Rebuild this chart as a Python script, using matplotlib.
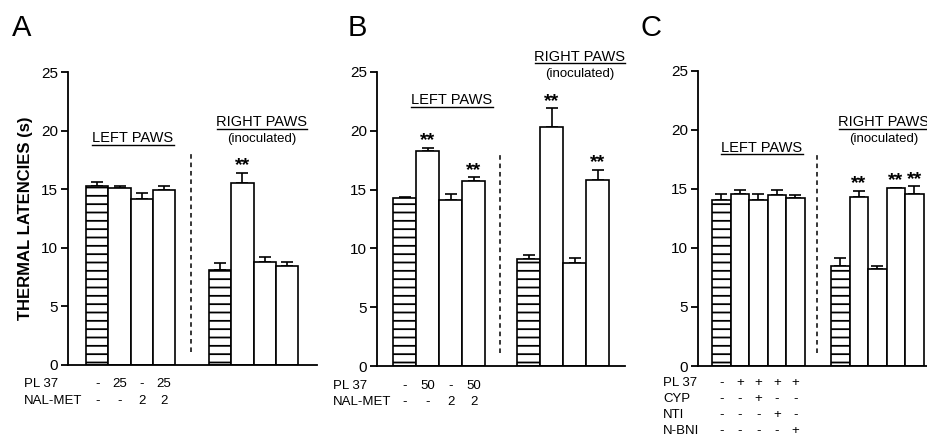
import numpy as np
import matplotlib

matplotlib.use('Agg')
import matplotlib.pyplot as plt
from matplotlib.lines import Line2D
from matplotlib import transforms

plt.rcParams['font.family'] = ['Liberation Sans', 'DejaVu Sans']
plt.rcParams['hatch.linewidth'] = 1.3
plt.rcParams['hatch.color'] = 'black'

W, H = 927, 437

# ---------------- data ----------------
# panel A
A_left = [15.3, 15.1, 14.2, 14.9]
A_left_err = [0.3, 0.2, 0.45, 0.4]
A_right = [8.1, 15.5, 8.75, 8.45]
A_right_err = [0.6, 0.9, 0.45, 0.3]
A_left_stars = []
A_right_stars = [1]
A_rows = {'PL 37': ['-', '25', '-', '25'],
          'NAL-MET': ['-', '-', '2', '2']}

# panel B
B_left = [14.25, 18.3, 14.15, 15.75]
B_left_err = [0.1, 0.25, 0.45, 0.3]
B_right = [9.1, 20.3, 8.75, 15.85]
B_right_err = [0.3, 1.6, 0.45, 0.85]
B_left_stars = [1, 3]
B_right_stars = [1, 3]
B_rows = {'PL 37': ['-', '50', '-', '50'],
          'NAL-MET': ['-', '-', '2', '2']}

# panel C
C_left = [14.1, 14.6, 14.1, 14.45, 14.2]
C_left_err = [0.5, 0.3, 0.45, 0.5, 0.25]
C_right = [8.45, 14.35, 8.25, 15.05, 14.55]
C_right_err = [0.7, 0.5, 0.2, 0.05, 0.7]
C_left_stars = []
C_right_stars = [1, 3, 4]
C_rows = {'PL 37': ['-', '+', '+', '+', '+'],
          'CYP': ['-', '-', '+', '-', '-'],
          'NTI': ['-', '-', '-', '+', '-'],
          'N-BNI': ['-', '-', '-', '-', '+']}

yticks = [0, 5, 10, 15, 20, 25]


def px(x, y):
    # pixel position -> figure fraction
    return x / W, 1 - y / H


fig = plt.figure(figsize=(W / 100, H / 100), dpi=100)
underlined = []


def draw_panel(rect_px, bar_px, starts, dash_x, left, left_err, right, right_err,
               left_stars, right_stars, rows, row_y, label_x):
    x0, ytop, x1, ybot = rect_px
    ax = fig.add_axes([x0 / W, 1 - ybot / H, (x1 - x0) / W, (ybot - ytop) / H])
    width_units = (x1 - x0) / bar_px
    ax.set_xlim(0, width_units)
    ax.set_ylim(0, 25)

    centers = []
    for start, vals, errs, stars in [(starts[0], left, left_err, left_stars),
                                     (starts[1], right, right_err, right_stars)]:
        xs = start + 0.5 + np.arange(len(vals))
        hatches = ['--'] + [''] * (len(vals) - 1)
        for x, v, h in zip(xs, vals, hatches):
            ax.bar(x, v, width=1.0, color='white', edgecolor='black',
                   linewidth=1.2, hatch=h, zorder=2)
        ax.errorbar(xs, vals, yerr=[np.zeros(len(vals)), errs], fmt='none',
                    ecolor='black', elinewidth=1.2, capsize=4, capthick=1.2, zorder=1)
        for i in stars:
            ax.text(xs[i], vals[i] + errs[i] + 0.2, '**', ha='center', va='baseline',
                    fontsize=14, fontweight='bold')
        centers.extend(xs)

    ax.plot([dash_x, dash_x], [1.1, 18.0], color='black', lw=1.1,
            linestyle=(0, (3, 2.5)))

    for s in ['top', 'right']:
        ax.spines[s].set_visible(False)
    for s in ['left', 'bottom']:
        ax.spines[s].set_linewidth(1.3)
    ax.set_xticks([])
    ax.set_yticks(yticks)
    ax.tick_params(axis='y', direction='out', length=5, width=1.3, labelsize=11, pad=2)

    # condition table under the bars
    trans = transforms.blended_transform_factory(ax.transData, fig.transFigure)
    for (name, marks), yy in zip(rows.items(), row_y):
        fig.text(*px(label_x, yy), name, fontsize=9.5, ha='left', va='center')
        for x, m in zip(centers, marks):
            ax.text(x, 1 - yy / H, m, transform=trans, fontsize=9.5,
                    ha='center', va='center', clip_on=False)
    return ax


axA = draw_panel((68, 72, 317, 365), 22.3, (0.81, 6.32), 5.52,
                 A_left, A_left_err, A_right, A_right_err,
                 A_left_stars, A_right_stars, A_rows, [384, 401], 24)
axB = draw_panel((377, 72, 625, 366), 23.0, (0.7, 6.09), 5.35,
                 B_left, B_left_err, B_right, B_right_err,
                 B_left_stars, B_right_stars, B_rows, [386, 402], 333)
axC = draw_panel((698, 71, 927, 366), 18.5, (0.76, 7.19), 6.43,
                 C_left, C_left_err, C_right, C_right_err,
                 C_left_stars, C_right_stars, C_rows, [383, 399, 415, 431], 663)

axA.set_ylabel('THERMAL LATENCIES (s)', fontsize=12, fontweight='bold', labelpad=6)

# panel letters
for letter, x in [('A', 12), ('B', 348), ('C', 640)]:
    fig.text(*px(x, 28), letter, fontsize=21, ha='left', va='center')


def group_label(x, y, text, sub=None, y_sub=None):
    t = fig.text(*px(x, y), text, fontsize=10.5, ha='center', va='center')
    underlined.append(t)
    if sub:
        fig.text(*px(x, y_sub), sub, fontsize=9.5, ha='center', va='center')


group_label(133, 138, 'LEFT PAWS')
group_label(262, 122, 'RIGHT PAWS', '(inoculated)', 139)
group_label(452, 100, 'LEFT PAWS')
group_label(580, 57, 'RIGHT PAWS', '(inoculated)', 74)
group_label(762, 148, 'LEFT PAWS')
group_label(884, 122, 'RIGHT PAWS', '(inoculated)', 139)

# underline the group headings
fig.canvas.draw()
renderer = fig.canvas.get_renderer()
for t in underlined:
    bb = t.get_window_extent(renderer).transformed(fig.transFigure.inverted())
    yline = bb.y0 + 0.5 / H
    fig.add_artist(Line2D([bb.x0, bb.x1], [yline, yline], color='black', lw=1.0))

fig.savefig('out.png', dpi=100)
